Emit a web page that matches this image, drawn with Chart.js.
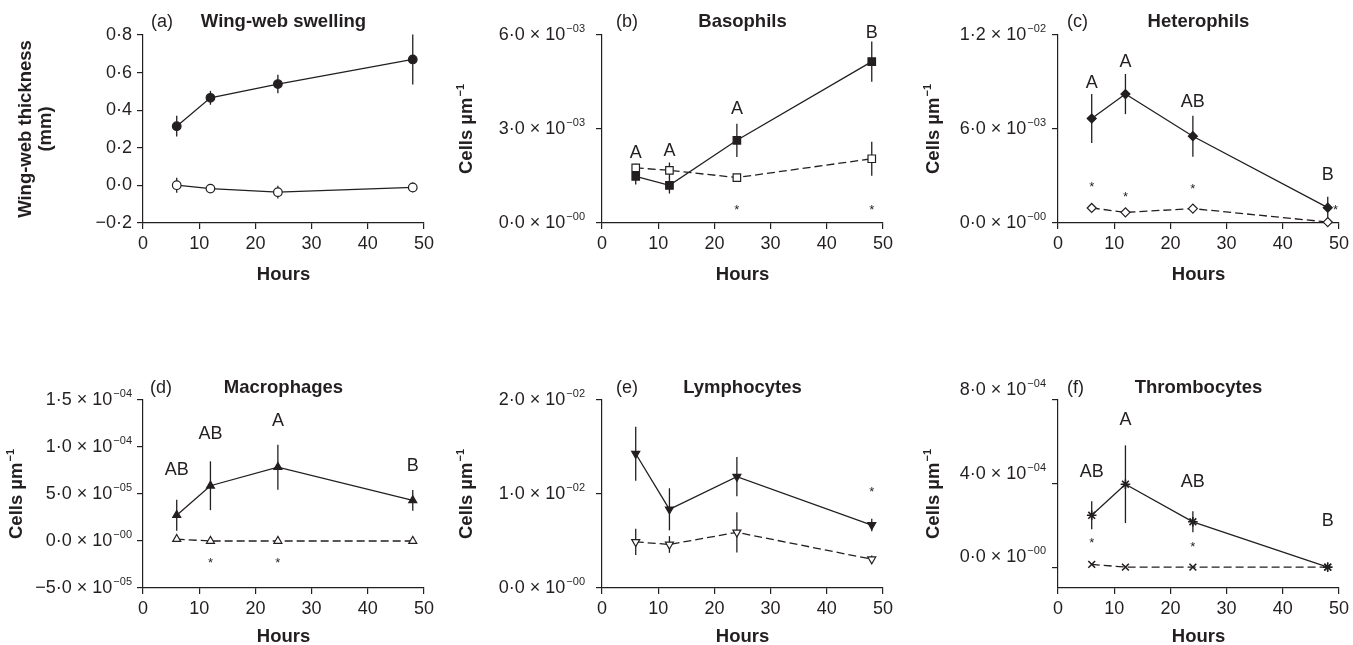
<!DOCTYPE html>
<html>
<head>
<meta charset="utf-8">
<script src="https://cdn.jsdelivr.net/npm/chart.js@4.4.1/dist/chart.umd.min.js"></script>
<style>
    body { margin: 0; background: #fff; }
    #wrap { position: relative; width: 1353px; height: 645px; overflow: hidden; }
    #wrap canvas { position: absolute; }
</style>
</head>
<body>
<div id="wrap"></div>
<script>
const INK = "#231f20"
const FONT = '"Liberation Sans", Arial, Helvetica, sans-serif'

//#region Data
const hours = [6, 12, 24, 48]
const xTicks = [0, 10, 20, 30, 40, 50]

// (a) wing-web swelling, mm
const swellingInfected = [0.315, 0.466, 0.539, 0.670]
const swellingInfectedErr = [0.055, 0.037, 0.049, 0.133]
const swellingControl = [0.001, -0.017, -0.036, -0.011]
const swellingControlErr = [0.040, 0.010, 0.034, 0.027]
const swellingTicks = [-0.2, 0, 0.2, 0.4, 0.6, 0.8]
const swellingTickLabels = ["−0·2", "0·0", "0·2", "0·4", "0·6", "0·8"]

// (b) basophils
const basoInfected = [1.49e-3, 1.20e-3, 2.64e-3, 5.15e-3]
const basoInfectedErr = [2.6e-4, 2.6e-4, 5.3e-4, 6.4e-4]
const basoControl = [1.76e-3, 1.68e-3, 1.45e-3, 2.05e-3]
const basoControlErr = [1.3e-4, 2.5e-4, 0, 5.4e-4]
const basoTicks = [0, 3e-3, 6e-3]
const basoTickLabels = ["0·0 × 10^−00", "3·0 × 10^−03", "6·0 × 10^−03"]
const basoLetters = [[6, 2.24e-3, "A"], [12, 2.30e-3, "A"], [24, 3.63e-3, "A"], [48, 6.06e-3, "B"]]
const basoStars = [[24, 5.1e-4], [48, 5.1e-4]]

// (c) heterophils
const heteroInfected = [6.67e-3, 8.23e-3, 5.54e-3, 9.8e-4]
const heteroInfectedErr = [1.57e-3, 1.28e-3, 1.31e-3, 7.0e-4]
const heteroControl = [9.6e-4, 6.8e-4, 9.2e-4, 6e-5]
const heteroControlErr = [0, 0, 0, 0]
const heteroTicks = [0, 6e-3, 1.2e-2]
const heteroTickLabels = ["0·0 × 10^−00", "6·0 × 10^−03", "1·2 × 10^−02"]
const heteroLetters = [[6, 8.95e-3, "A"], [12, 1.025e-2, "A"], [24, 7.7e-3, "AB"], [48, 3.05e-3, "B"]]
const heteroStars = [[6, 2.52e-3], [12, 1.88e-3], [24, 2.41e-3], [49.4, 1.07e-3]]

// (d) macrophages
const macroInfected = [2.75e-5, 5.88e-5, 7.85e-5, 4.32e-5]
const macroInfectedErr = [1.65e-5, 2.6e-5, 2.4e-5, 1.1e-5]
const macroControl = [2e-6, 0, 0, 0]
const macroControlErr = [0, 0, 0, 0]
const macroTicks = [-5e-5, 0, 5e-5, 1e-4, 1.5e-4]
const macroTickLabels = ["−5·0 × 10^−05", "0·0 × 10^−00", "5·0 × 10^−05", "1·0 × 10^−04", "1·5 × 10^−04"]
const macroLetters = [[6, 7.56e-5, "AB"], [12, 1.14e-4, "AB"], [24, 1.28e-4, "A"], [48, 8.0e-5, "B"]]
const macroStars = [[12, -1.95e-5], [24, -1.95e-5]]

// (e) lymphocytes
const lymphoInfected = [1.428e-2, 8.37e-3, 1.185e-2, 6.7e-3]
const lymphoInfectedErr = [2.88e-3, 2.24e-3, 2.08e-3, 6.6e-4]
const lymphoControl = [4.91e-3, 4.63e-3, 5.92e-3, 3.06e-3]
const lymphoControlErr = [1.39e-3, 8.9e-4, 2.14e-3, 4e-4]
const lymphoTicks = [0, 1e-2, 2e-2]
const lymphoTickLabels = ["0·0 × 10^−00", "1·0 × 10^−02", "2·0 × 10^−02"]
const lymphoLetters = []
const lymphoStars = [[48, 1.06e-2]]

// (f) thrombocytes
const thromboInfected = [2.48e-4, 3.97e-4, 2.17e-4, 0]
const thromboInfectedErr = [6.7e-5, 1.86e-4, 5.0e-5, 0]
const thromboControl = [1.3e-5, 0, 0, 0]
const thromboControlErr = [0, 0, 0, 0]
const thromboTicks = [0, 4e-4, 8e-4]
const thromboTickLabels = ["0·0 × 10^−00", "4·0 × 10^−04", "8·0 × 10^−04"]
const thromboLetters = [[6, 4.53e-4, "AB"], [12, 7.02e-4, "A"], [24, 4.06e-4, "AB"], [48, 2.2e-4, "B"]]
const thromboStars = [[6, 1.34e-4], [24, 1.14e-4]]
//#endregion

const cellsTitle = ["Cells µm^−1"]
const TICK_SIZE = 18
const BOLD_SIZE = 18.5

// page coordinates: box = canvas rect, area = chart area (left, top, right, bottom)
const panels = [
    {
        box: [0, 0, 451, 322], area: [143, 35, 424, 223], tag: "(a)", tagX: 151, title: "Wing-web swelling",
        yTitle: ["Wing-web thickness", "(mm)"], yTitleX: [26, 46], yMin: -0.2, yMax: 0.8,
        yTicks: swellingTicks, yTickLabels: swellingTickLabels, tickGap: 11, tickDy: 0,
        series: [
            { data: swellingControl, err: swellingControlErr, point: "circle", filled: false, dashed: false, radius: 4.3 },
            { data: swellingInfected, err: swellingInfectedErr, point: "circle", filled: true, dashed: false, radius: 4.3 }
        ],
        letters: [], stars: []
    },
    {
        box: [451, 0, 451, 322], area: [602, 35, 883, 223], tag: "(b)", tagX: 616, title: "Basophils",
        yTitle: cellsTitle, yTitleX: [467], yMin: 0, yMax: 6e-3,
        yTicks: basoTicks, yTickLabels: basoTickLabels, tickGap: 17, tickDy: 0,
        series: [
            { data: basoControl, err: basoControlErr, point: "rect", filled: false, dashed: true, radius: 5.3 },
            { data: basoInfected, err: basoInfectedErr, point: "rect", filled: true, dashed: false, radius: 5.3 }
        ],
        letters: basoLetters, stars: basoStars
    },
    {
        box: [902, 0, 451, 322], area: [1058, 35, 1340, 223], tag: "(c)", tagX: 1067, title: "Heterophils",
        yTitle: cellsTitle, yTitleX: [934], yMin: 0, yMax: 1.2e-2,
        yTicks: heteroTicks, yTickLabels: heteroTickLabels, tickGap: 12, tickDy: 0,
        series: [
            { data: heteroControl, err: heteroControlErr, point: "rectRot", filled: false, dashed: true, radius: 4.5 },
            { data: heteroInfected, err: heteroInfectedErr, point: "rectRot", filled: true, dashed: false, radius: 4.5 }
        ],
        letters: heteroLetters, stars: heteroStars
    },
    {
        box: [0, 322, 451, 323], area: [143, 400, 424, 588], tag: "(d)", tagX: 150, title: "Macrophages",
        yTitle: cellsTitle, yTitleX: [17], yMin: -5e-5, yMax: 1.5e-4,
        yTicks: macroTicks, yTickLabels: macroTickLabels, tickGap: 11, tickDy: 0,
        series: [
            { data: macroControl, err: macroControlErr, point: "triangle", filled: false, dashed: true, radius: 4.6 },
            { data: macroInfected, err: macroInfectedErr, point: "triangle", filled: true, dashed: false, radius: 4.6 }
        ],
        letters: macroLetters, stars: macroStars
    },
    {
        box: [451, 322, 451, 323], area: [602, 400, 883, 588], tag: "(e)", tagX: 616, title: "Lymphocytes",
        yTitle: cellsTitle, yTitleX: [467], yMin: 0, yMax: 2e-2,
        yTicks: lymphoTicks, yTickLabels: lymphoTickLabels, tickGap: 17, tickDy: 0,
        series: [
            { data: lymphoControl, err: lymphoControlErr, point: "triangle", rotation: 180, filled: false, dashed: true, radius: 4.6 },
            { data: lymphoInfected, err: lymphoInfectedErr, point: "triangle", rotation: 180, filled: true, dashed: false, radius: 4.6 }
        ],
        letters: lymphoLetters, stars: lymphoStars
    },
    {
        box: [902, 322, 451, 323], area: [1058, 400, 1340, 588], tag: "(f)", tagX: 1067, title: "Thrombocytes",
        yTitle: cellsTitle, yTitleX: [934], yMin: -1e-4, yMax: 8e-4,
        yTicks: thromboTicks, yTickLabels: thromboTickLabels, tickGap: 12, tickDy: -10,
        series: [
            { data: thromboControl, err: thromboControlErr, point: "crossRot", filled: false, dashed: true, radius: 4.8 },
            { data: thromboInfected, err: thromboInfectedErr, point: "star", filled: true, dashed: false, radius: 4.8 }
        ],
        letters: thromboLetters, stars: thromboStars
    }
]

// text with an optional superscript after "^"
DrawRich = (ctx, text, x, y, align, size, weight) => {
    const [main, sup] = text.split("^")
    const mainFont = `${weight} ${size}px ${FONT}`
    const supFont = `${weight} ${Math.round(size * 0.62)}px ${FONT}`
    ctx.font = mainFont
    const w1 = ctx.measureText(main).width
    ctx.font = supFont
    const w2 = sup ? ctx.measureText(sup).width + 1 : 0
    let sx = x
    if (align === "right") sx = x - w1 - w2
    if (align === "center") sx = x - (w1 + w2) / 2
    ctx.textAlign = "left"
    ctx.textBaseline = "middle"
    ctx.font = mainFont
    ctx.fillText(main, sx, y)
    if (sup) {
        ctx.font = supFont
        ctx.fillText(sup, sx + w1 + 1, y - size * 0.32)
    }
}

DecorPlugin = p => ({
    id: "decor",
    beforeDatasetsDraw: chart => {
        const { ctx, scales: { x, y } } = chart
        ctx.save()
        ctx.strokeStyle = INK
        ctx.lineWidth = 1.3
        p.series.forEach(s => s.err.forEach((e, i) => {
            if (!e) return
            const px = x.getPixelForValue(hours[i])
            ctx.beginPath()
            ctx.moveTo(px, y.getPixelForValue(s.data[i] - e))
            ctx.lineTo(px, y.getPixelForValue(s.data[i] + e))
            ctx.stroke()
        }))
        ctx.restore()
    },
    afterDraw: chart => {
        const { ctx, chartArea, scales: { x, y } } = chart
        const ox = p.box[0]
        const midX = (chartArea.left + chartArea.right) / 2
        const midY = (chartArea.top + chartArea.bottom) / 2
        const topRow = p.box[1] === 0
        ctx.save()
        ctx.fillStyle = INK

        // panel tag + title
        ctx.textBaseline = "middle"
        ctx.textAlign = "left"
        ctx.font = `${TICK_SIZE}px ${FONT}`
        const titleY = chartArea.top - (topRow ? 13 : 12)
        ctx.fillText(p.tag, p.tagX - ox, titleY)
        ctx.textAlign = "center"
        ctx.font = `bold ${BOLD_SIZE}px ${FONT}`
        ctx.fillText(p.title, midX, titleY)

        // x title
        ctx.textBaseline = "alphabetic"
        ctx.fillText("Hours", midX, chartArea.bottom + (topRow ? 57 : 54))

        // y tick labels
        p.yTicks.forEach((v, i) => {
            DrawRich(ctx, p.yTickLabels[i], chartArea.left - p.tickGap, y.getPixelForValue(v) + p.tickDy, "right", TICK_SIZE, "normal")
        })

        // y title (rotated)
        p.yTitle.forEach((t, i) => {
            ctx.save()
            ctx.translate(p.yTitleX[i] - ox, midY)
            ctx.rotate(-Math.PI / 2)
            DrawRich(ctx, t, 0, 0, "center", BOLD_SIZE, "bold")
            ctx.restore()
        })

        // significance letters and stars
        ctx.textAlign = "center"
        ctx.textBaseline = "middle"
        ctx.font = `${TICK_SIZE}px ${FONT}`
        p.letters.forEach(([h, v, t]) => ctx.fillText(t, x.getPixelForValue(h), y.getPixelForValue(v)))
        ctx.textBaseline = "alphabetic"
        ctx.font = `13px ${FONT}`
        p.stars.forEach(([h, v]) => ctx.fillText("*", x.getPixelForValue(h), y.getPixelForValue(v) + 7.4))
        ctx.restore()
    }
})

CreatePanel = p => {
    const [bx, by, bw, bh] = p.box
    const [L, T, R, B] = p.area
    const canvas = document.createElement("canvas")
    canvas.width = bw
    canvas.height = bh
    canvas.style.left = bx + "px"
    canvas.style.top = by + "px"
    document.getElementById("wrap").appendChild(canvas)

    const axisLine = { color: INK, width: 1.2 }
    const gridTicks = { drawOnChartArea: false, drawTicks: true, tickLength: 6, color: INK, lineWidth: 1.2 }

    new Chart(canvas, {
        type: "line",
        data: {
            datasets: p.series.map(s => ({
                data: hours.map((h, i) => ({ x: h, y: s.data[i] })),
                borderColor: INK,
                borderWidth: 1.3,
                borderDash: s.dashed ? [8, 4] : [],
                pointStyle: s.point,
                pointRotation: s.rotation || 0,
                pointRadius: s.radius,
                pointBackgroundColor: s.filled ? INK : "#fff",
                pointBorderColor: INK,
                pointBorderWidth: s.point === "star" || s.point === "crossRot" ? 1.6 : 1.2,
                tension: 0,
                fill: false,
                clip: false
            }))
        },
        options: {
            responsive: false,
            animation: false,
            events: [],
            layout: { padding: { left: 0, top: T - by, right: bx + bw - R, bottom: 0 } },
            plugins: { legend: { display: false }, tooltip: { enabled: false } },
            scales: {
                x: {
                    type: "linear",
                    min: 0,
                    max: 50,
                    afterBuildTicks: scale => { scale.ticks = xTicks.map(value => ({ value })) },
                    afterFit: scale => { scale.height = by + bh - B },
                    ticks: { color: INK, font: { family: FONT, size: TICK_SIZE }, padding: 4, maxRotation: 0, autoSkip: false, callback: v => String(v) },
                    grid: gridTicks,
                    border: axisLine
                },
                y: {
                    type: "linear",
                    min: p.yMin,
                    max: p.yMax,
                    afterBuildTicks: scale => { scale.ticks = p.yTicks.map(value => ({ value })) },
                    afterFit: scale => { scale.width = L - bx },
                    ticks: { display: false },
                    grid: gridTicks,
                    border: axisLine
                }
            }
        },
        plugins: [DecorPlugin(p)]
    })
}

panels.forEach(CreatePanel)
</script>
</body>
</html>
